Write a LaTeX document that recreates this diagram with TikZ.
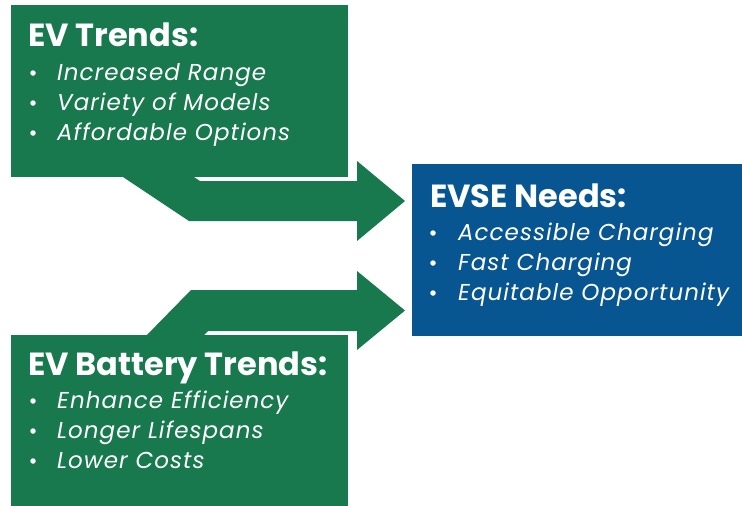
\documentclass[tikz,border=0pt]{standalone}
\usepackage{fontspec}
\setmainfont{Poppins}
\definecolor{evgreen}{RGB}{24,121,78}
\definecolor{evblue}{RGB}{8,86,145}
\begin{document}
\begin{tikzpicture}[x=1pt,y=-1pt,
  panel/.style={inner sep=0pt, outer sep=0pt, anchor=north west},
  heading/.style={text=white, inner sep=0pt, anchor=base west,
    font=\bfseries\fontsize{32}{32}\selectfont},
  item/.style={text=white, inner sep=0pt, anchor=base west,
    font=\itshape\fontsize{23}{23}\selectfont\addfontfeatures{LetterSpace=4.5}},
  dot/.style={fill=white, circle, inner sep=0pt, minimum size=5.5pt},
  bigarrow/.style={fill=evgreen}]
\useasboundingbox (0,0) rectangle (742,506);
\fill[white] (0,0) rectangle (742,506);

% the three panels
\node[panel, fill=evgreen, minimum width=337pt, minimum height=172pt] (ev) at (11,5) {};
\node[panel, fill=evgreen, minimum width=337pt, minimum height=171pt] (bat) at (11,335) {};
\node[panel, fill=evblue, minimum width=330pt, minimum height=172pt] (evse) at (412,164) {};

% bent arrows leading into the EVSE panel
\fill[bigarrow] (357,161) -- (405,201) -- (357,241) -- (357,221) -- (189,221)
  -- (120,175) -- (191,175) -- (200,181) -- (357,181) -- cycle;
\fill[bigarrow] (357,271) -- (405,310.5) -- (357,350) -- (357,331) -- (208,331)
  -- (201,338) -- (144,338) -- (191,290) -- (357,290) -- cycle;

% EV trends
\node[heading] (evh) at (28,46) {EV Trends:};
\node[item] (ev1) at (57,80) {Increased Range};
\node[item] (ev2) at (57,110) {Variety of Models};
\node[item] (ev3) at (57,140) {Affordable Options};
\node[dot] (evb1) at (33,73) {};
\node[dot] (evb2) at (33,103) {};
\node[dot] (evb3) at (33,133) {};

% EVSE needs
\node[heading] (eseh) at (430,207) {EVSE Needs:};
\node[item] (ese1) at (458,240) {Accessible Charging};
\node[item] (ese2) at (458,270) {Fast Charging};
\node[item] (ese3) at (458,300) {Equitable Opportunity};
\node[dot] (eseb1) at (433,233) {};
\node[dot] (eseb2) at (433,263) {};
\node[dot] (eseb3) at (433,293) {};

% EV battery trends
\node[heading] (bath) at (28,375) {EV Battery Trends:};
\node[item] (bat1) at (57,408) {Enhance Efficiency};
\node[item] (bat2) at (57,438) {Longer Lifespans};
\node[item] (bat3) at (57,468) {Lower Costs};
\node[dot] (batb1) at (33,401) {};
\node[dot] (batb2) at (33,431) {};
\node[dot] (batb3) at (33,461) {};
\end{tikzpicture}
\end{document}
